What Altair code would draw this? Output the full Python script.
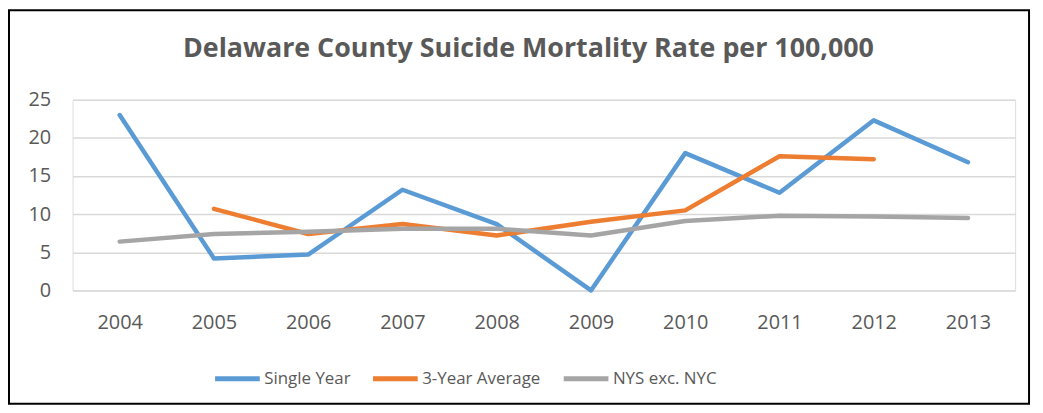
import altair as alt
import pandas as pd

years = ["2004", "2005", "2006", "2007", "2008", "2009", "2010", "2011", "2012", "2013"]
single_year = [23.0, 4.2, 4.7, 13.2, 8.7, 0.0, 18.0, 12.8, 22.3, 16.8]
three_year = [None, 10.7, 7.4, 8.7, 7.2, 9.0, 10.5, 17.6, 17.2, None]
nys_exc_nyc = [6.4, 7.4, 7.7, 8.1, 8.1, 7.2, 9.1, 9.8, 9.7, 9.5]

series_names = ["Single Year", "3-Year Average", "NYS exc. NYC"]
series_colors = ["#5B9BD5", "#ED7D31", "#A5A5A5"]
y_ticks = [0, 5, 10, 15, 20, 25]
title_text = "Delaware County Suicide Mortality Rate per 100,000"

rows = []
for name, vals in zip(series_names, [single_year, three_year, nys_exc_nyc]):
    for yr, v in zip(years, vals):
        if v is not None:
            rows.append({"Year": yr, "Rate": v, "Series": name, "order": series_names.index(name)})
df = pd.DataFrame(rows)

W, H = 949, 192
GREY = "#595959"
FONT = "Open Sans"

lines = alt.Chart(df).mark_line(strokeWidth=4.5, strokeCap="round", strokeJoin="round").encode(
    x=alt.X("Year:N", sort=years,
            scale=alt.Scale(type="point", padding=0.5),
            axis=alt.Axis(title=None, labelAngle=0, ticks=False, domain=False,
                          labelFontSize=20, labelColor=GREY, labelFont=FONT,
                          labelPadding=22, grid=False)),
    y=alt.Y("Rate:Q", scale=alt.Scale(domain=[0, 25], nice=False),
            axis=alt.Axis(title=None, values=y_ticks, ticks=False, domain=False,
                          labelFontSize=20, labelColor=GREY, labelFont=FONT,
                          labelPadding=22, grid=True, gridColor="#D9D9D9", gridWidth=1.5)),
    color=alt.Color("Series:N",
                    scale=alt.Scale(domain=series_names, range=series_colors),
                    legend=alt.Legend(title=None, orient="none", direction="horizontal",
                                      legendX=141, legendY=256,
                                      symbolType="stroke", symbolSize=2025, symbolStrokeWidth=5,
                                      labelFontSize=17, labelColor=GREY, labelFont=FONT,
                                      labelOffset=2, columnPadding=12, symbolOffset=0)),
    detail="Series:N",
    order=alt.Order("order:Q"),
)

frame = alt.Chart(pd.DataFrame({"a": [0]})).mark_rect(
    fill=None, stroke="black", strokeWidth=2, clip=False
).encode(
    x=alt.value(-64), x2=alt.value(W + 14),
    y=alt.value(-90), y2=alt.value(H + 114),
)

title = alt.Chart(pd.DataFrame({"t": [title_text]})).mark_text(
    fontSize=27, fontWeight="bold", color=GREY, font=FONT,
    align="center", baseline="middle", clip=False
).encode(
    text="t:N", x=alt.value(459), y=alt.value(-51),
)

chart = alt.layer(lines, frame, title).properties(
    width=W, height=H,
    padding={"left": 65, "top": 91, "right": 20, "bottom": 118},
    autosize=alt.AutoSizeParams(type="none"),
).configure_view(stroke=None).configure(background="white")

chart.save("out.html", embed_options={"renderer": "svg", "actions": False})
